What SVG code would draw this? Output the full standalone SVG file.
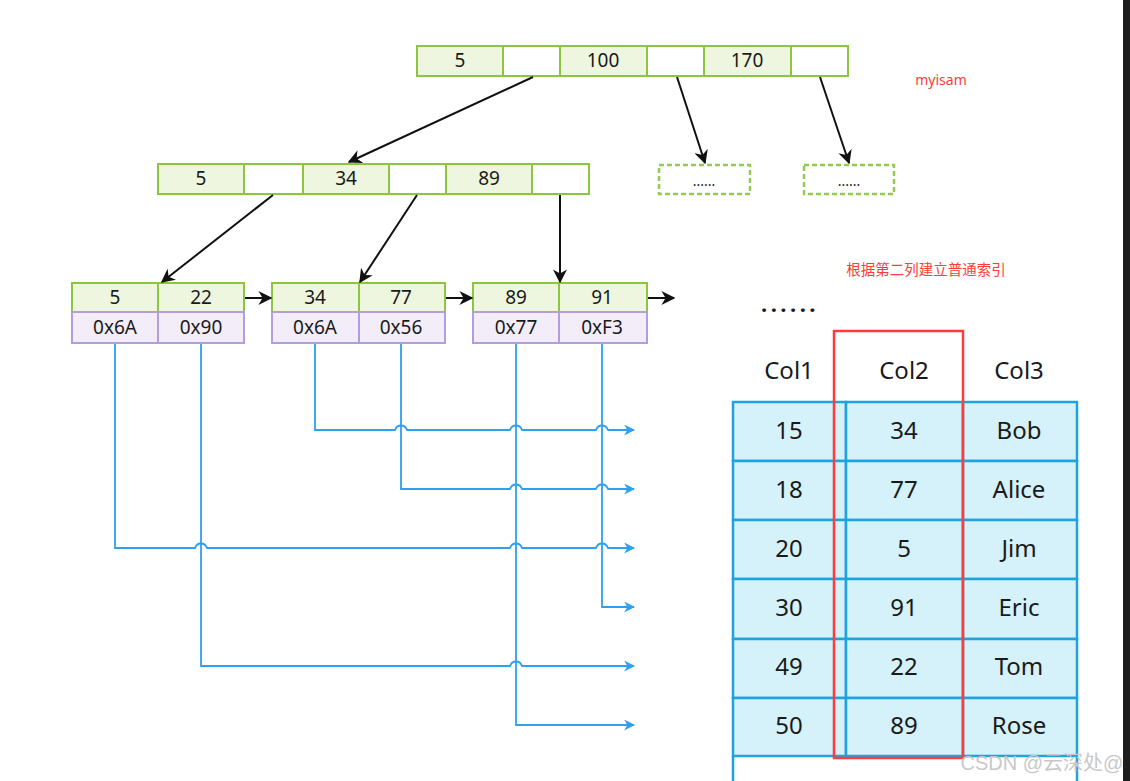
<svg xmlns="http://www.w3.org/2000/svg" width="1130" height="781" viewBox="0 0 1130 781">
<style>
text{font-family:"Noto Sans","Open Sans","Liberation Sans",sans-serif;fill:#1a1a1a;text-anchor:middle}
.k{fill:#eff6df;stroke:#8cc63f;stroke-width:2}
.p{fill:#ffffff;stroke:#8cc63f;stroke-width:2}
.v{fill:#f2edf8;stroke:#b49ddc;stroke-width:2}
.t{font-size:19px}
.d{fill:none;stroke:#95c94f;stroke-width:2.5;stroke-dasharray:5,3}
.cell{fill:#d5f1f9;stroke:#1fa3de;stroke-width:2.5}
.tb{font-size:24px}
.blk{fill:none;stroke:#111;stroke-width:2}
.bl{fill:none;stroke:#2f9ff0;stroke-width:1.8}
.red{fill:#ff3b3b;text-anchor:middle}
</style>
<defs>
<marker id="ab2" viewBox="0 0 10 10" refX="9" refY="5" markerWidth="14" markerHeight="14" orient="auto" markerUnits="userSpaceOnUse">
<path d="M0,0 L10,5 L0,10 L3,5 z" fill="#111"/>
</marker>
<marker id="au" viewBox="0 0 10 10" refX="9" refY="5" markerWidth="11" markerHeight="11" orient="auto" markerUnits="userSpaceOnUse">
<path d="M0,0 L10,5 L0,10 L3,5 z" fill="#2f9ff0"/>
</marker>
</defs>
<rect x="0" y="0" width="1130" height="781" fill="#ffffff"/>
<rect x="1123" y="0" width="7" height="781" fill="#1e1e1e"/>

<g id="root">
<rect class="k" x="417" y="46" width="86" height="30"/>
<rect class="p" x="503" y="46" width="57" height="30"/>
<rect class="k" x="560" y="46" width="87" height="30"/>
<rect class="p" x="647" y="46" width="57" height="30"/>
<rect class="k" x="704" y="46" width="87" height="30"/>
<rect class="p" x="791" y="46" width="57" height="30"/>
<text class="t" x="460" y="67">5</text>
<text class="t" x="603" y="67">100</text>
<text class="t" x="747" y="67">170</text>
</g>

<g id="level2">
<rect class="k" x="158" y="164" width="86" height="30"/>
<rect class="p" x="244" y="164" width="59" height="30"/>
<rect class="k" x="303" y="164" width="86" height="30"/>
<rect class="p" x="389" y="164" width="57" height="30"/>
<rect class="k" x="446" y="164" width="86" height="30"/>
<rect class="p" x="532" y="164" width="57" height="30"/>
<text class="t" x="201" y="185">5</text>
<text class="t" x="346" y="185">34</text>
<text class="t" x="489" y="185">89</text>
</g>

<g id="more1">
<rect class="d" x="659" y="165" width="91" height="29"/>
<text x="704" y="186" style="font-size:14px">......</text>
</g>
<g id="more2">
<rect class="d" x="804" y="165" width="90" height="29"/>
<text x="849" y="186" style="font-size:14px">......</text>
</g>

<g id="leaf1">
<rect class="k" x="72" y="283" width="86" height="29"/>
<rect class="k" x="158" y="283" width="86" height="29"/>
<rect class="v" x="72" y="312" width="86" height="31"/>
<rect class="v" x="158" y="312" width="86" height="31"/>
<text class="t" x="115" y="304">5</text>
<text class="t" x="201" y="304">22</text>
<text class="t" x="115" y="334">0x6A</text>
<text class="t" x="201" y="334">0x90</text>
</g>
<g id="leaf2">
<rect class="k" x="272" y="283" width="87" height="29"/>
<rect class="k" x="359" y="283" width="86" height="29"/>
<rect class="v" x="272" y="312" width="87" height="31"/>
<rect class="v" x="359" y="312" width="86" height="31"/>
<text class="t" x="315" y="304">34</text>
<text class="t" x="401" y="304">77</text>
<text class="t" x="315" y="334">0x6A</text>
<text class="t" x="401" y="334">0x56</text>
</g>
<g id="leaf3">
<rect class="k" x="473" y="283" width="86" height="29"/>
<rect class="k" x="559" y="283" width="88" height="29"/>
<rect class="v" x="473" y="312" width="86" height="31"/>
<rect class="v" x="559" y="312" width="88" height="31"/>
<text class="t" x="516" y="304">89</text>
<text class="t" x="602" y="304">91</text>
<text class="t" x="516" y="334">0x77</text>
<text class="t" x="602" y="334">0xF3</text>
</g>

<g id="connectors">
<line class="blk" x1="533" y1="77" x2="349" y2="162" marker-end="url(#ab2)"/>
<line class="blk" x1="677" y1="77" x2="705" y2="163" marker-end="url(#ab2)"/>
<line class="blk" x1="820" y1="77" x2="849" y2="163" marker-end="url(#ab2)"/>
<line class="blk" x1="273" y1="195" x2="162" y2="282" marker-end="url(#ab2)"/>
<line class="blk" x1="417" y1="195" x2="360" y2="282" marker-end="url(#ab2)"/>
<line class="blk" x1="560" y1="195" x2="560" y2="282" marker-end="url(#ab2)"/>
<line class="blk" x1="245" y1="298" x2="271" y2="298" marker-end="url(#ab2)"/>
<line class="blk" x1="446" y1="298" x2="472" y2="298" marker-end="url(#ab2)"/>
<line class="blk" x1="648" y1="298" x2="674" y2="298" marker-end="url(#ab2)"/>

<path class="bl" d="M315,344 V430 H395 C397,424 405,424 407,430 H510 C512,424 520,424 522,430 H596 C598,424 606,424 608,430 H634" marker-end="url(#au)"/>
<path class="bl" d="M401,344 V489 H510 C512,483 520,483 522,489 H596 C598,483 606,483 608,489 H634" marker-end="url(#au)"/>
<path class="bl" d="M115,344 V548 H195 C197,542 205,542 207,548 H510 C512,542 520,542 522,548 H596 C598,542 606,542 608,548 H634" marker-end="url(#au)"/>
<path class="bl" d="M602,344 V607 H634" marker-end="url(#au)"/>
<path class="bl" d="M201,344 V666 H510 C512,660 520,660 522,666 H634" marker-end="url(#au)"/>
<path class="bl" d="M516,344 V725 H634" marker-end="url(#au)"/>
</g>

<g id="dots">
<text x="790" y="312" style="font-size:22px;font-weight:bold;letter-spacing:3.5px">......</text>
</g>

<g id="table">
<text class="tb" x="789" y="379">Col1</text>
<text class="tb" x="904" y="379">Col2</text>
<text class="tb" x="1019" y="379">Col3</text>
<rect class="cell" x="733" y="402" width="113" height="59"/>
<rect class="cell" x="846" y="402" width="117" height="59"/>
<rect class="cell" x="963" y="402" width="114" height="59"/>
<rect class="cell" x="733" y="461" width="113" height="59"/>
<rect class="cell" x="846" y="461" width="117" height="59"/>
<rect class="cell" x="963" y="461" width="114" height="59"/>
<rect class="cell" x="733" y="520" width="113" height="59"/>
<rect class="cell" x="846" y="520" width="117" height="59"/>
<rect class="cell" x="963" y="520" width="114" height="59"/>
<rect class="cell" x="733" y="579" width="113" height="60"/>
<rect class="cell" x="846" y="579" width="117" height="60"/>
<rect class="cell" x="963" y="579" width="114" height="60"/>
<rect class="cell" x="733" y="639" width="113" height="59"/>
<rect class="cell" x="846" y="639" width="117" height="59"/>
<rect class="cell" x="963" y="639" width="114" height="59"/>
<rect class="cell" x="733" y="698" width="113" height="58"/>
<rect class="cell" x="846" y="698" width="117" height="58"/>
<rect class="cell" x="963" y="698" width="114" height="58"/>
<path d="M733,756 V782 M1077,756 V782" stroke="#1fa3de" stroke-width="2.5" fill="none"/>
<text class="tb" x="789" y="439">15</text>
<text class="tb" x="904" y="439">34</text>
<text class="tb" x="1019" y="439">Bob</text>
<text class="tb" x="789" y="498">18</text>
<text class="tb" x="904" y="498">77</text>
<text class="tb" x="1019" y="498">Alice</text>
<text class="tb" x="789" y="557">20</text>
<text class="tb" x="904" y="557">5</text>
<text class="tb" x="1019" y="557">Jim</text>
<text class="tb" x="789" y="616">30</text>
<text class="tb" x="904" y="616">91</text>
<text class="tb" x="1019" y="616">Eric</text>
<text class="tb" x="789" y="675">49</text>
<text class="tb" x="904" y="675">22</text>
<text class="tb" x="1019" y="675">Tom</text>
<text class="tb" x="789" y="734">50</text>
<text class="tb" x="904" y="734">89</text>
<text class="tb" x="1019" y="734">Rose</text>
<rect x="834" y="331" width="129" height="427" fill="none" stroke="#ff3b3b" stroke-width="2.5"/>
</g>

<text class="red" x="941" y="85" style="font-size:14px;fill:#ff3b3b">myisam</text>
<text class="red" x="926" y="275" style="font-size:14.5px;fill:#ff3b3b;font-family:'Noto Sans CJK SC',sans-serif">根据第二列建立普通索引</text>
<text x="1042" y="770" style="font-size:20px;fill:#c8c8c8;font-family:'Liberation Sans','Noto Sans CJK SC',sans-serif">CSDN @云深处@</text>
</svg>
